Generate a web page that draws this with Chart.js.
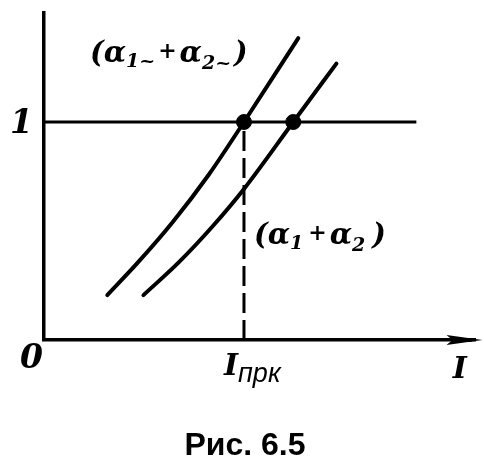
<!DOCTYPE html>
<html>
<head>
<meta charset="utf-8">
<script src="https://cdn.jsdelivr.net/npm/chart.js@4/dist/chart.umd.min.js"></script>
<style>
  html, body { margin: 0; padding: 0; background: #fff; }
</style>
</head>
<body>
<canvas id="chart" width="484" height="476"></canvas>
<script>
// curve (α1~ + α2~) — left curve
const leftX = [0.289, 0.431, 0.587, 0.752, 0.913, 1.161];
const leftY = [0.206, 0.358, 0.540, 0.758, 1.0, 1.385];
// curve (α1 + α2) — right curve
const rightX = [0.454, 0.615, 0.771, 0.913, 1.138, 1.335];
const rightY = [0.206, 0.356, 0.523, 0.693, 1.0, 1.268];
// level line y = 1
const levelX = [0, 1.70];
const levelY = [1, 1];
// intersection points
const crossX = [0.913, 1.138];
const crossY = [1, 1];
// I_прк marker and axis name position
const iPrk = 0.913;
const xAxisLabelAt = 1.88;

const toPts = (xs, ys) => xs.map((x, i) => ({ x: x, y: ys[i] }));

const serif = '"DejaVu Serif", "Liberation Serif", serif';
const sans = '"Liberation Sans", Arial, sans-serif';

// draws a run of text pieces, some of them lowered as subscripts
const drawRun = (ctx, x, y, parts) => {
    let cx = x;
    parts.forEach(p => {
        ctx.font = p.font;
        ctx.fillText(p.t, cx, y + (p.dy || 0));
        cx += ctx.measureText(p.t).width + (p.gap || 0);
    });
};

const labelsPlugin = {
    id: 'labels',
    afterDraw(chart) {
        const ctx = chart.ctx;
        const xs = chart.scales.x, ys = chart.scales.y;
        const y0 = ys.getPixelForValue(0);
        ctx.save();
        ctx.fillStyle = '#000';
        ctx.strokeStyle = '#000';

        // arrow at the end of the I axis
        const xe = xs.right + 7;
        ctx.lineWidth = 3.5;
        ctx.beginPath();
        ctx.moveTo(xs.right - 4, y0);
        ctx.lineTo(xe - 20, y0);
        ctx.stroke();
        ctx.beginPath();
        ctx.moveTo(xe, y0);
        ctx.lineTo(xe - 36, y0 - 5);
        ctx.lineTo(xe - 30, y0);
        ctx.lineTo(xe - 36, y0 + 5);
        ctx.closePath();
        ctx.fill();

        ctx.textBaseline = 'alphabetic';
        ctx.textAlign = 'left';
        const bi = (s, f) => 'italic bold ' + s + 'px ' + (f || serif);
        const it = (s, f) => 'italic ' + s + 'px ' + (f || serif);

        // tick labels
        drawRun(ctx, 10, ys.getPixelForValue(1) + 11, [{ t: '1', font: bi(33) }]);
        drawRun(ctx, 20, y0 + 28, [{ t: '0', font: bi(33) }]);
        drawRun(ctx, xs.getPixelForValue(iPrk) - 20, y0 + 35, [
            { t: 'I', font: bi(30), gap: 0 },
            { t: 'прк', font: it(27, sans), dy: 7 }
        ]);
        drawRun(ctx, xs.getPixelForValue(xAxisLabelAt) - 3, y0 + 38, [{ t: 'I', font: bi(30) }]);

        // curve labels
        drawRun(ctx, 90, 62, [
            { t: '(α', font: bi(29) },
            { t: '1~', font: bi(19), dy: 5, gap: 3 },
            { t: '+', font: bi(22), dy: -4, gap: 3 },
            { t: 'α', font: bi(29) },
            { t: '2~', font: bi(19), dy: 7, gap: 3 },
            { t: ')', font: bi(29) }
        ]);
        drawRun(ctx, 254, 244, [
            { t: '(α', font: bi(29) },
            { t: '1', font: bi(19), dy: 5, gap: 5 },
            { t: '+', font: bi(22), dy: -4, gap: 3 },
            { t: 'α', font: bi(29) },
            { t: '2', font: bi(19), dy: 7, gap: 7 },
            { t: ')', font: bi(29) }
        ]);

        // figure caption
        ctx.textAlign = 'center';
        ctx.font = 'bold 32px ' + sans;
        ctx.fillText('Рис. 6.5', 245, 455);
        ctx.restore();
    }
};

new Chart(document.getElementById('chart'), {
    type: 'line',
    data: {
        datasets: [
            {
                data: toPts(leftX, leftY),
                borderColor: '#000', borderWidth: 4, pointRadius: 0,
                cubicInterpolationMode: 'monotone', borderCapStyle: 'round'
            },
            {
                data: toPts(rightX, rightY),
                borderColor: '#000', borderWidth: 4, pointRadius: 0,
                cubicInterpolationMode: 'monotone', borderCapStyle: 'round'
            },
            {
                data: toPts(levelX, levelY),
                borderColor: '#000', borderWidth: 3, pointRadius: 0
            },
            {
                data: [{ x: iPrk, y: 0 }, { x: iPrk, y: 1 }],
                borderColor: '#000', borderWidth: 3, pointRadius: 0,
                borderDash: [20, 7]
            },
            {
                data: toPts(crossX, crossY),
                showLine: false, pointRadius: 7.5,
                pointBackgroundColor: '#000', pointBorderColor: '#000'
            }
        ]
    },
    options: {
        responsive: false,
        animation: false,
        layout: { padding: { left: 36, right: 0, top: 13, bottom: 128 } },
        plugins: { legend: { display: false }, tooltip: { enabled: false } },
        scales: {
            x: {
                type: 'linear', min: 0, max: 1.97,
                grid: { display: false },
                border: { display: true, color: '#000', width: 3.5 },
                ticks: { display: false }
            },
            y: {
                type: 'linear', min: 0, max: 1.5,
                grid: { display: false },
                border: { display: true, color: '#000', width: 3.5 },
                ticks: { display: false }
            }
        }
    },
    plugins: [labelsPlugin]
});
</script>
</body>
</html>
